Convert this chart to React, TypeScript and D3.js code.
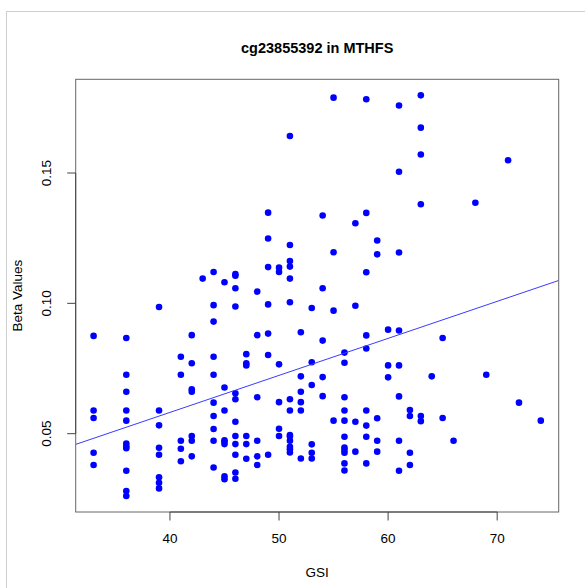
import React from "react";
import * as d3 from "d3";

const W = 585;
const H = 588;

const title = "cg23855392 in MTHFS";
const xLabel = "GSI";
const yLabel = "Beta Values";
const xTicks = [40, 50, 60, 70];
const yTicks = [0.05, 0.1, 0.15];
const yTickLabels = ["0.05", "0.10", "0.15"];

// GSI values (x) and Beta values (y)
const gsi = [
  33, 33, 33, 33, 33,
  36, 36, 36, 36, 36, 36, 36, 36, 36, 36, 36,
  39, 39, 39, 39, 39, 39, 39, 39,
  41, 41, 41, 41, 41,
  42, 42, 42, 42, 42, 42, 42,
  43,
  44, 44, 44, 44, 44, 44, 44, 44, 44, 44,
  45, 45, 45, 45, 45, 45, 45, 45,
  46, 46, 46, 46, 46, 46, 46, 46, 46, 46, 46, 46,
  47, 47, 47, 47, 47, 47,
  48, 48, 48, 48, 48, 48,
  49, 49, 49, 49, 49, 49, 49,
  50, 50, 50, 50, 50, 50,
  51, 51, 51, 51, 51, 51, 51, 51, 51, 51, 51, 51, 51, 51,
  52, 52, 52, 52, 52, 52,
  53, 53, 53, 53, 53, 53,
  54, 54, 54, 54, 54,
  55, 55, 55, 55,
  56, 56, 56, 56, 56, 56, 56, 56, 56, 56, 56,
  57, 57, 57, 57,
  58, 58, 58, 58, 58, 58, 58, 58, 58,
  59, 59, 59, 59, 59,
  60, 60, 60,
  61, 61, 61, 61, 61, 61, 61, 61,
  62, 62, 62, 62,
  63, 63, 63, 63, 63, 63,
  64,
  65, 65,
  66,
  68,
  69,
  71,
  72,
  74,
];

const beta = [
  0.0875, 0.0589, 0.056, 0.0427, 0.038,
  0.0867, 0.0726, 0.0661, 0.0589, 0.055, 0.0462, 0.0452, 0.0444, 0.0358, 0.028, 0.0261,
  0.0986, 0.0589, 0.0532, 0.0446, 0.0419, 0.0333, 0.0312, 0.029,
  0.0795, 0.0726, 0.0473, 0.0442, 0.0394,
  0.0878, 0.077, 0.067, 0.0661, 0.0491, 0.0473, 0.0413,
  0.1095,
  0.112, 0.0993, 0.093, 0.0795, 0.0726, 0.0619, 0.0568, 0.0518, 0.0473, 0.037,
  0.1081, 0.0677, 0.0589, 0.0475, 0.0469, 0.046, 0.0336, 0.0325,
  0.1112, 0.1106, 0.1058, 0.0988, 0.0655, 0.0632, 0.0546, 0.0491, 0.046, 0.0419, 0.0351, 0.0327,
  0.0805, 0.077, 0.0762, 0.0491, 0.046, 0.0404,
  0.1045, 0.0878, 0.064, 0.0473, 0.0413, 0.038,
  0.1348, 0.1249, 0.1139, 0.0996, 0.0884, 0.0802, 0.0419,
  0.1137, 0.112, 0.0766, 0.0621, 0.0519, 0.0491,
  0.1642, 0.1224, 0.1162, 0.1141, 0.1095, 0.1004, 0.0632, 0.0589, 0.0495, 0.0489, 0.0473, 0.045, 0.044, 0.0428,
  0.0889, 0.072, 0.0661, 0.0621, 0.0589, 0.0405,
  0.0982, 0.0774, 0.0687, 0.0459, 0.0427, 0.0405,
  0.1337, 0.1058, 0.0857, 0.0717, 0.0644,
  0.1789, 0.1196, 0.0972, 0.055,
  0.0811, 0.0772, 0.064, 0.0589, 0.055, 0.0488, 0.0447, 0.0437, 0.0427, 0.0386, 0.0359,
  0.1307, 0.0991, 0.0546, 0.0431,
  0.1783, 0.1347, 0.1119, 0.0877, 0.0827, 0.0589, 0.0531, 0.0488, 0.0386,
  0.1241, 0.1188, 0.0559, 0.0473, 0.0431,
  0.0899, 0.0762, 0.0716,
  0.1759, 0.1505, 0.1195, 0.0896, 0.0762, 0.0643, 0.0473, 0.0358,
  0.0591, 0.0568, 0.0427, 0.038,
  0.1798, 0.1674, 0.1571, 0.138, 0.0568, 0.0548,
  0.072,
  0.0867, 0.056,
  0.0473,
  0.1386,
  0.0726,
  0.1549,
  0.0619,
  0.055,
];

// fitted line (intercept, slope)
const fitIntercept = 0.00136;
const fitSlope = 0.00142;

const points = gsi.map((g, i) => ({ x: g, y: beta[i] }));

const plotLeft = 75.7;
const plotRight = 558.7;
const plotTop = 79.3;
const plotBottom = 512;

function padded(ext: [number, number]): [number, number] {
  const d = (ext[1] - ext[0]) * 0.04;
  return [ext[0] - d, ext[1] + d];
}

export default function App() {
  const xDom = padded(d3.extent(gsi) as [number, number]);
  const yDom = padded(d3.extent(beta) as [number, number]);
  const x = d3.scaleLinear().domain(xDom).range([plotLeft, plotRight]);
  const y = d3.scaleLinear().domain(yDom).range([plotBottom, plotTop]);

  const fitLine = d3
    .line<number>()
    .x((d) => x(d))
    .y((d) => y(fitIntercept + fitSlope * d));

  const font = "'Liberation Sans', Arial, Helvetica, sans-serif";
  const tick = 8.5;
  const axisColor = "#444";

  return (
    <svg
      width={W}
      height={H}
      style={{ position: "absolute", left: 0, top: 0, background: "#fff" }}
      fontFamily={font}
    >
      <rect x={0} y={0} width={W} height={H} fill="#fff" />
      <rect x={6.5} y={11.5} width={700} height={700} fill="none" stroke="#cfcfcf" strokeWidth={1} />
      <defs>
        <clipPath id="plotclip">
          <rect x={plotLeft} y={plotTop} width={plotRight - plotLeft} height={plotBottom - plotTop} />
        </clipPath>
      </defs>

      <text x={(plotLeft + plotRight) / 2} y={53} textAnchor="middle" fontWeight="bold" fontSize={14.5} fill="#000">
        {title}
      </text>

      {/* points */}
      <g>
        {points.map((p, i) => (
          <circle key={i} cx={x(p.x)} cy={y(p.y)} r={3.3} fill="#0000ff" />
        ))}
      </g>

      {/* regression line */}
      <path
        d={fitLine(xDom) || ""}
        fill="none"
        stroke="#3a3aff"
        strokeWidth={1}
        clipPath="url(#plotclip)"
      />

      {/* box */}
      <rect
        x={plotLeft}
        y={plotTop}
        width={plotRight - plotLeft}
        height={plotBottom - plotTop}
        fill="none"
        stroke="#666"
        strokeWidth={1}
      />

      {/* x axis */}
      <line x1={x(xTicks[0])} x2={x(xTicks[xTicks.length - 1])} y1={plotBottom} y2={plotBottom} stroke={axisColor} />
      {xTicks.map((t) => (
        <g key={t}>
          <line x1={x(t)} x2={x(t)} y1={plotBottom} y2={plotBottom + tick} stroke={axisColor} />
          <text x={x(t)} y={543} textAnchor="middle" fontSize={13.5} fill="#000">
            {t}
          </text>
        </g>
      ))}
      <text x={(plotLeft + plotRight) / 2} y={577} textAnchor="middle" fontSize={13.5} fill="#000">
        {xLabel}
      </text>

      {/* y axis */}
      <line x1={plotLeft} x2={plotLeft} y1={y(yTicks[0])} y2={y(yTicks[yTicks.length - 1])} stroke={axisColor} />
      {yTicks.map((t, i) => (
        <g key={t}>
          <line x1={plotLeft - tick} x2={plotLeft} y1={y(t)} y2={y(t)} stroke={axisColor} />
          <text
            transform={`translate(51, ${y(t)}) rotate(-90)`}
            textAnchor="middle"
            fontSize={13.5}
            fill="#000"
          >
            {yTickLabels[i]}
          </text>
        </g>
      ))}
      <text
        transform={`translate(22, ${(plotTop + plotBottom) / 2}) rotate(-90)`}
        textAnchor="middle"
        fontSize={13.5}
        fill="#000"
      >
        {yLabel}
      </text>
    </svg>
  );
}
